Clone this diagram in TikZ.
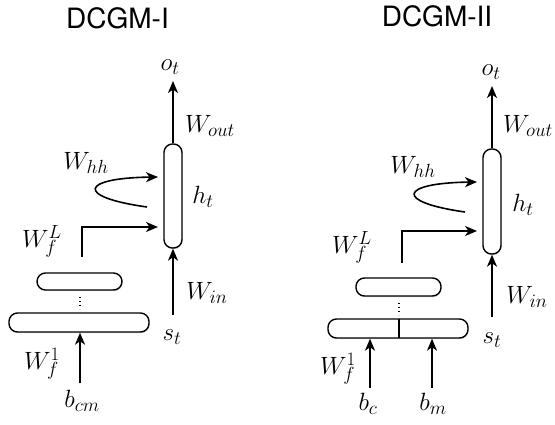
\RequirePackage{fix-cm}
\documentclass[tikz,border=0pt]{standalone}
\usepackage{fontspec}
\newfontfamily\titlefont{TeX Gyre Heros}
\DeclareMathSizes{25}{25}{19}{14}
\usetikzlibrary{arrows.meta,shadows}
\tikzset{
  lbl/.style={inner sep=0pt, font=\fontsize{25}{30}\selectfont},
  ttl/.style={inner sep=0pt, font=\titlefont\fontsize{28}{32}\selectfont},
  pill/.style={draw, line width=1.4pt, fill=white, rounded corners=8.5pt, inner sep=0pt,
    drop shadow={opacity=0.3, shadow xshift=0.6pt, shadow yshift=-1.2pt}},
  arr/.style={line width=1.6pt, -{Stealth[length=12pt,width=10pt,inset=3.5pt]}},
  dots/.style={line width=1.2pt, dash pattern=on 1.2pt off 2.8pt}
}
\begin{document}
\begin{tikzpicture}[x=1pt,y=-1pt]
\useasboundingbox (0,0) rectangle (555,425);
% ---------- DCGM-I ----------
\node[ttl] (t1) at (117.5,18) {DCGM-I};
\node[pill, minimum width=18pt, minimum height=104pt] (h1) at (173,196) {};
\node[pill, minimum width=85pt, minimum height=17pt] (u1) at (79.5,281.5) {};
\node[pill, minimum width=140pt, minimum height=19pt] (b1) at (79,322.5) {};
\node[lbl] (o1) at (170,67) {$o_t$};
\node[lbl] (wo1) at (210,126) {$W_{out}$};
\node[lbl] (wh1) at (86,163) {$W_{hh}$};
\node[lbl] (hl1) at (203,197) {$h_t$};
\node[lbl] (wl1) at (42,241) {$W_f^L$};
\node[lbl] (wi1) at (207,293) {$W_{in}$};
\node[lbl] (s1) at (172,337) {$s_t$};
\node[lbl] (w11) at (42,364) {$W_f^1$};
\node[lbl] (bcm) at (82,401) {$b_{cm}$};
\coordinate (o1tip) at (173,81);
\coordinate (s1top) at (173,315);
\coordinate (bcmtop) at (80,383);
\coordinate (c1s) at (147,207);
\coordinate (c1e) at (158,177);
\coordinate (f1s) at (82,257);
\coordinate (f1c) at (82,227);
\coordinate (f1e) at (158,227);
\coordinate (d1a) at (80,297);
\coordinate (d1b) at (80,309);
\draw[arr] (h1.north) -- (o1tip);
\draw[arr] (s1top) -- (h1.south);
\draw[arr] (bcmtop) -- (bcmtop |- b1.south);
\draw[arr] (c1s) .. controls (75,197) and (80,178) .. (c1e);
\draw[arr] (f1s) -- (f1c) -- (f1e);
\draw[dots] (d1a) -- (d1b);
% ---------- DCGM-II ----------
\node[ttl] (t2) at (437,16) {DCGM-II};
\node[pill, minimum width=18pt, minimum height=105pt] (h2) at (492,201.5) {};
\node[pill, minimum width=85pt, minimum height=18pt] (u2) at (398.5,287) {};
\node[pill, minimum width=140pt, minimum height=19pt] (b2) at (398,328.5) {};
\draw[line width=1.4pt] (399,319) -- (399,338);
\node[lbl] (o2) at (491,72) {$o_t$};
\node[lbl] (wo2) at (528,126) {$W_{out}$};
\node[lbl] (wh2) at (413,167) {$W_{hh}$};
\node[lbl] (hl2) at (523,205) {$h_t$};
\node[lbl] (wl2) at (352,247) {$W_f^L$};
\node[lbl] (wi2) at (527,297) {$W_{in}$};
\node[lbl] (s2) at (492,340) {$s_t$};
\node[lbl] (w12) at (338,369) {$W_f^1$};
\node[lbl] (bc) at (368,404) {$b_c$};
\node[lbl] (bm) at (433,404) {$b_m$};
\coordinate (o2tip) at (492,86);
\coordinate (s2top) at (492,317);
\coordinate (bctop) at (370,388);
\coordinate (bmtop) at (432,388);
\coordinate (c2s) at (465,212);
\coordinate (c2e) at (477,182);
\coordinate (f2s) at (402,263);
\coordinate (f2c) at (402,231);
\coordinate (f2e) at (477,231);
\coordinate (d2a) at (399,303);
\coordinate (d2b) at (399,315);
\draw[arr] (h2.north) -- (o2tip);
\draw[arr] (s2top) -- (h2.south);
\draw[arr] (bctop) -- (bctop |- b2.south);
\draw[arr] (bmtop) -- (bmtop |- b2.south);
\draw[arr] (c2s) .. controls (394,202) and (399,183) .. (c2e);
\draw[arr] (f2s) -- (f2c) -- (f2e);
\draw[dots] (d2a) -- (d2b);
\end{tikzpicture}
\end{document}
